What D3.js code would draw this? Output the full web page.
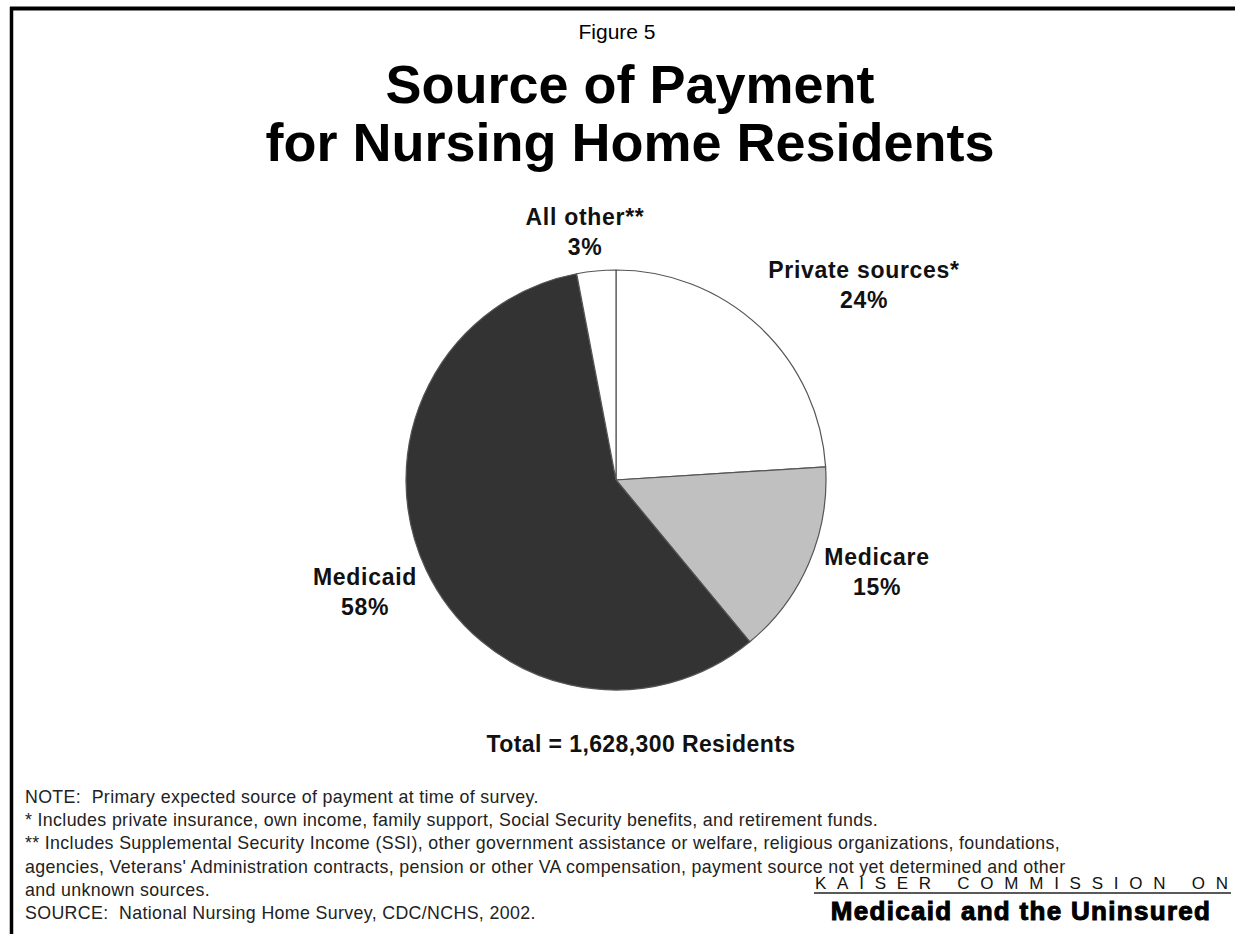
<!DOCTYPE html>
<html>
<head>
<meta charset="utf-8">
<script src="https://cdn.jsdelivr.net/npm/d3@7"></script>
<style>
  body { margin: 0; background: #fff; }
  svg { display: block; font-family: "Liberation Sans", Arial, sans-serif; }
</style>
</head>
<body>
<svg width="1235" height="934"></svg>
<script>
// slice data, clockwise from 12 o'clock
var categories = ['Private sources*', 'Medicare', 'Medicaid', 'All other**'];
var values = [24, 15, 58, 3];
var sliceColors = ['#ffffff', '#c0c0c0', '#333333', '#ffffff'];

var notes = [
    'NOTE:  Primary expected source of payment at time of survey.',
    '* Includes private insurance, own income, family support, Social Security benefits, and retirement funds.',
    '** Includes Supplemental Security Income (SSI), other government assistance or welfare, religious organizations, foundations,',
    'agencies, Veterans\' Administration contracts, pension or other VA compensation, payment source not yet determined and other',
    'and unknown sources.',
    'SOURCE:  National Nursing Home Survey, CDC/NCHS, 2002.'
];

var svg = d3.select('svg');
var svgWidth = +svg.attr('width');

//pie geometry
var center = {x: 616, y: 480};
var radius = 210;

//label anchors (first line baseline) relative to pie center
var labelOffset = [[248, -202], [261, 85], [-251, 105], [-31, -255]];

//frame: top and left rules only
svg.append('line')
    .attr('x1', 10).attr('x2', svgWidth)
    .attr('y1', 8.5).attr('y2', 8.5)
    .attr('stroke', '#000').attr('stroke-width', 4);
svg.append('line')
    .attr('x1', 11.5).attr('x2', 11.5)
    .attr('y1', 7).attr('y2', 934)
    .attr('stroke', '#000').attr('stroke-width', 3.5);

//titles
svg.append('text')
    .attr('x', 617).attr('y', 39)
    .attr('text-anchor', 'middle')
    .style('font-size', '21px')
    .text('Figure 5');

svg.append('text')
    .attr('x', 630).attr('y', 103)
    .attr('text-anchor', 'middle')
    .style('font-size', '54px').style('font-weight', 700)
    .text('Source of Payment');

svg.append('text')
    .attr('x', 630).attr('y', 161)
    .attr('text-anchor', 'middle')
    .style('font-size', '54px').style('font-weight', 700)
    .text('for Nursing Home Residents');

//pie
var pie = d3.pie().sort(null).value(function(d) { return d; });
var arc = d3.arc().innerRadius(0).outerRadius(radius);

var pieG = svg.append('g')
    .attr('transform', 'translate(' + [center.x, center.y] + ')');

pieG.selectAll('path')
    .data(pie(values))
    .enter()
    .append('path')
    .attr('d', arc)
    .attr('fill', function(d, i) { return sliceColors[i]; })
    .attr('stroke', '#555')
    .attr('stroke-width', 1.2);

//slice labels
var labels = pieG.selectAll('text.label')
    .data(categories)
    .enter()
    .append('text')
    .attr('class', 'label')
    .attr('text-anchor', 'middle')
    .style('font-size', '23px')
    .style('font-weight', 700)
    .style('letter-spacing', '0.7px')
    .style('fill', '#111');

labels.append('tspan')
    .attr('x', function(d, i) { return labelOffset[i][0]; })
    .attr('y', function(d, i) { return labelOffset[i][1]; })
    .text(function(d) { return d; });

labels.append('tspan')
    .attr('x', function(d, i) { return labelOffset[i][0]; })
    .attr('y', function(d, i) { return labelOffset[i][1] + 30; })
    .text(function(d, i) { return values[i] + '%'; });

//total
svg.append('text')
    .attr('x', 641).attr('y', 752)
    .attr('text-anchor', 'middle')
    .style('font-size', '23px').style('font-weight', 700)
    .style('letter-spacing', '0.4px')
    .style('fill', '#111')
    .text('Total = 1,628,300 Residents');

//footnotes
svg.selectAll('text.note')
    .data(notes)
    .enter()
    .append('text')
    .attr('class', 'note')
    .attr('x', 25)
    .attr('y', function(d, i) { return 803 + i * 23.2; })
    .style('font-size', '17.8px')
    .style('letter-spacing', '0.35px')
    .style('white-space', 'pre')
    .style('fill', '#222')
    .text(function(d) { return d; });

//Kaiser logo
svg.append('text')
    .attr('x', 815).attr('y', 889)
    .attr('textLength', 413)
    .attr('lengthAdjust', 'spacing')
    .style('font-size', '17px')
    .style('fill', '#111')
    .text('KAISER COMMISSION ON');

svg.append('line')
    .attr('x1', 814).attr('x2', 1231)
    .attr('y1', 893).attr('y2', 893)
    .attr('stroke', '#222').attr('stroke-width', 1.5);

svg.append('text')
    .attr('x', 1021).attr('y', 920)
    .attr('text-anchor', 'middle')
    .style('font-size', '26px').style('font-weight', 700)
    .style('letter-spacing', '1.3px')
    .style('stroke', '#000').style('stroke-width', 1)
    .text('Medicaid and the Uninsured');
</script>
</body>
</html>
